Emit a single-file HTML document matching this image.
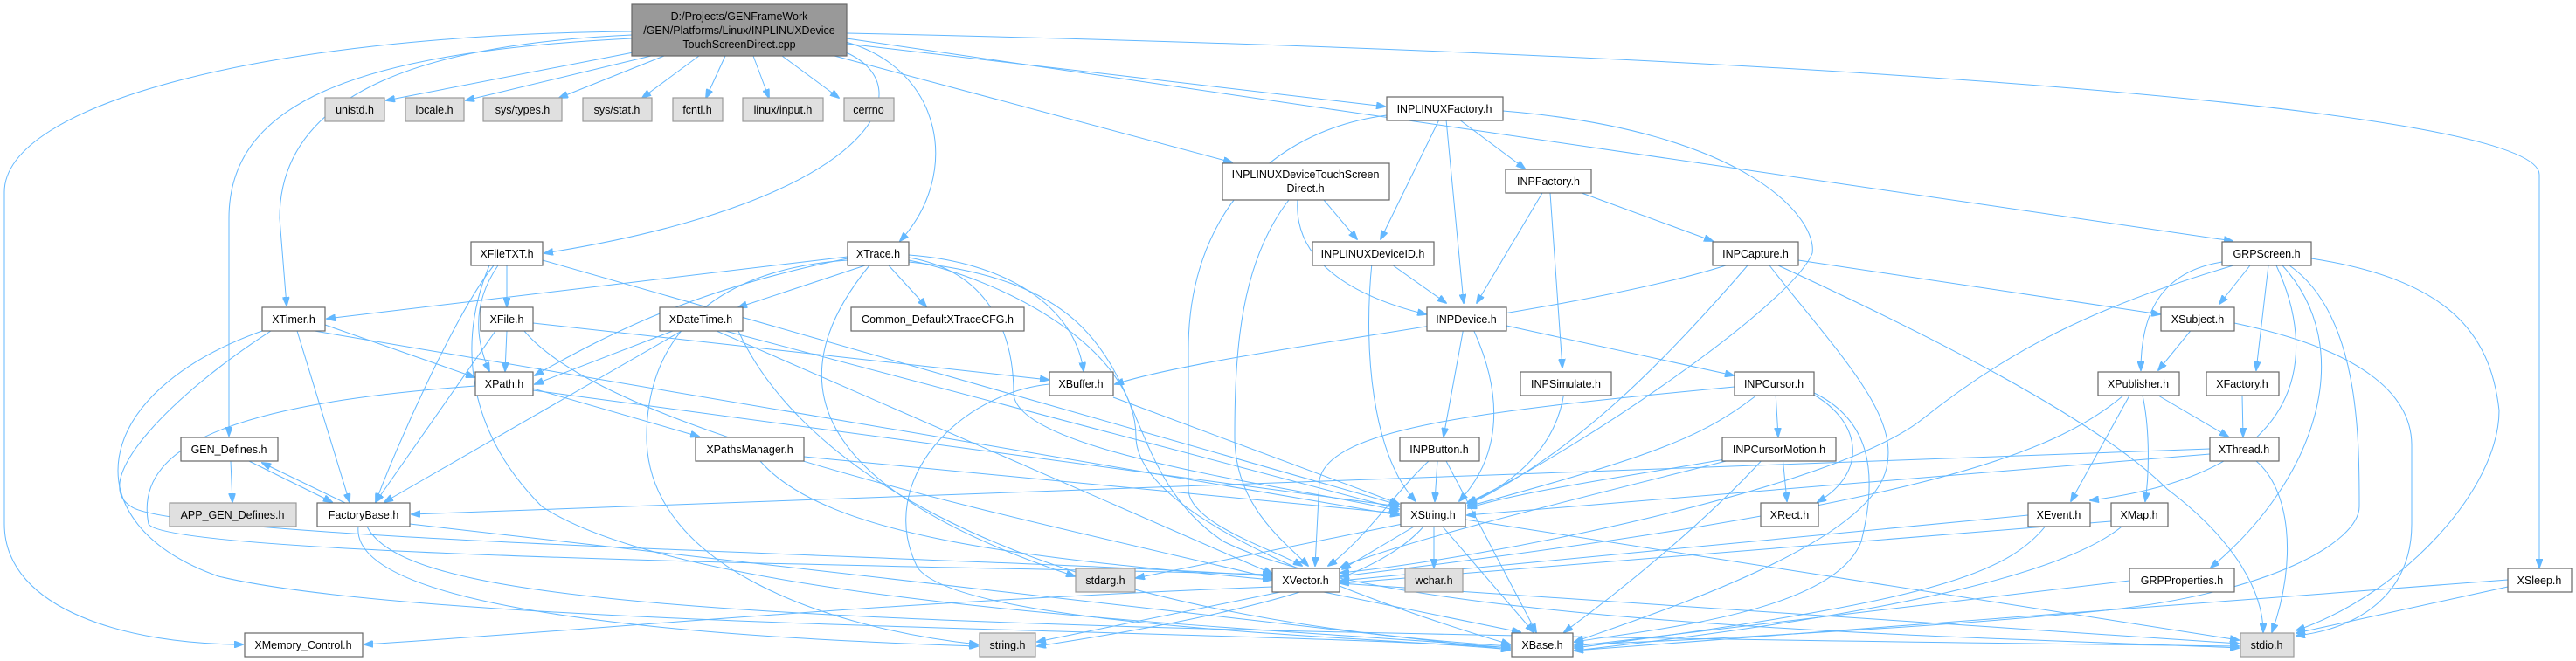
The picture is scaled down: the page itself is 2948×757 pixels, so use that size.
<!DOCTYPE html>
<html><head><meta charset="utf-8"><style>
html,body{margin:0;padding:0;background:#fff;}
svg{display:block;}
text{font-family:"Liberation Sans",Arial,sans-serif;font-size:12.5px;fill:#000;text-anchor:middle;}
.n{fill:#fff;stroke:#666;stroke-width:1.2;}
.g{fill:#e0e0e0;stroke:#999;stroke-width:1.2;}
.r{fill:#999;stroke:#666;stroke-width:1.2;}
path{fill:none;stroke:#63b8ff;stroke-width:1;marker-end:url(#a);}
</style></head><body>
<svg width="2948" height="757" viewBox="0 0 2948 757" xmlns="http://www.w3.org/2000/svg">
<defs><marker id="a" markerWidth="11" markerHeight="8" refX="10" refY="4" orient="auto" markerUnits="userSpaceOnUse"><polygon points="0,0 11,4 0,8" fill="#63b8ff" stroke="#63b8ff"/></marker></defs>
<g>
<!-- root edges -->
<path d="M735 58 L442 115"/>
<path d="M745 64 L533 115"/>
<path d="M760 64 L640 112"/>
<path d="M800 64 L735 112"/>
<path d="M830 64 L808 112"/>
<path d="M862 64 L880 112"/>
<path d="M895 64 L960 112"/>
<path d="M723 36 C300 40, 5 120, 5 220 L5 600 C5 700, 150 738, 278 738"/>
<path d="M723 44 C400 60, 262 120, 262 250 L262 499"/>
<path d="M723 40 C500 50, 320 100, 320 250 L328 350"/>
<path d="M968 60 C1060 100, 1000 230, 623 290"/>
<path d="M968 48 C1080 80, 1100 200, 1030 276"/>
<path d="M955 64 L1410 186"/>
<path d="M969 50 L1585 122"/>
<path d="M969 44 L2555 276"/>
<path d="M969 38 C2000 60, 2906 120, 2906 200 L2906 650"/>
<!-- INPLINUXFactory -->
<path d="M1647 137 L1580 274"/>
<path d="M1655 137 L1675 347"/>
<path d="M1670 137 L1745 193"/>
<path d="M1720 127 C2000 150, 2080 250, 2074 290 C2050 350, 1800 520, 1679 576"/>
<path d="M1587 132 C1450 150, 1360 250, 1360 400 L1360 560 C1360 600, 1460 630, 1490 648"/>
<!-- TSD -->
<path d="M1515 229 L1553 274"/>
<path d="M1485 229 C1480 300, 1550 340, 1632 360"/>
<path d="M1475 229 C1420 300, 1413 400, 1413 500 C1413 580, 1470 620, 1497 648"/>
<!-- INPFactory -->
<path d="M1765 221 L1690 347"/>
<path d="M1774 221 L1788 421"/>
<path d="M1810 221 L1960 276"/>
<!-- INPLINUXDeviceID -->
<path d="M1590 301 L1655 347"/>
<path d="M1570 301 C1560 400, 1570 520, 1620 574"/>
<!-- INPCapture -->
<path d="M1975 304 C1800 360, 1400 400, 1276 440"/>
<path d="M2000 304 C1900 420, 1800 520, 1680 578"/>
<path d="M2058 298 L2472 360"/>
<path d="M2025 304 C2100 400, 2170 470, 2160 530 C2150 620, 1900 700, 1802 735"/>
<path d="M2035 304 C2200 380, 2400 480, 2480 560 C2560 620, 2590 680, 2590 724"/>
<!-- INPDevice -->
<path d="M1675 375 L1652 500"/>
<path d="M1685 375 C1720 450, 1720 520, 1670 574"/>
<path d="M1724 373 L1984 430"/>
<path d="M1790 449 C1780 520, 1720 560, 1680 576"/>
<!-- INPCursor -->
<path d="M1985 443 C1700 470, 1520 490, 1510 550 L1505 648"/>
<path d="M2015 449 C1950 500, 1900 520, 1680 580"/>
<path d="M2032 449 L2035 500"/>
<path d="M2070 449 C2130 480, 2140 540, 2080 575"/>
<path d="M2074 449 C2140 480, 2150 540, 2130 620 C2100 700, 1900 720, 1802 735"/>
<!-- INPButton -->
<path d="M1645 528 L1642 574"/>
<path d="M1635 528 C1600 560, 1560 620, 1520 648"/>
<path d="M1655 528 L1758 724"/>
<!-- INPCursorMotion -->
<path d="M1990 523 C1900 540, 1750 560, 1680 582"/>
<path d="M1995 523 C1850 560, 1600 620, 1534 650"/>
<path d="M2040 523 L2045 574"/>
<path d="M2020 523 C1950 600, 1850 680, 1790 724"/>
<!-- GRPScreen -->
<path d="M2575 304 L2540 348"/>
<path d="M2543 300 C2480 310, 2450 350, 2450 424"/>
<path d="M2596 304 L2582 424"/>
<path d="M2605 304 C2650 400, 2650 540, 2392 573"/>
<path d="M2612 304 C2700 400, 2650 550, 2530 650"/>
<path d="M2620 304 C2700 360, 2700 500, 2700 580 C2700 620, 2600 680, 2400 700 C2200 720, 1900 735, 1802 738"/>
<path d="M2645 296 C2800 320, 2850 380, 2860 470 C2860 560, 2750 680, 2628 722"/>
<path d="M2556 304 C2400 350, 2300 400, 2200 480 C2100 560, 1700 640, 1534 656"/>
<!-- XSubject / XPublisher / XFactory / XThread -->
<path d="M2510 375 L2470 424"/>
<path d="M2557 370 C2700 400, 2760 450, 2760 510 L2760 600 C2760 680, 2700 720, 2628 728"/>
<path d="M2470 453 L2550 500"/>
<path d="M2437 453 L2370 574"/>
<path d="M2452 453 C2460 490, 2460 540, 2455 574"/>
<path d="M2430 453 C2350 520, 2200 580, 1534 660"/>
<path d="M2566 453 L2567 500"/>
<path d="M2529 514 L471 589"/>
<path d="M2582 528 C2620 560, 2630 640, 2600 724"/>
<path d="M2529 520 L1679 590"/>
<path d="M2321 590 L1534 665"/>
<path d="M2345 597 C2300 660, 2200 690, 1802 742"/>
<path d="M2416 597 L1534 668"/>
<path d="M2435 597 C2380 650, 2200 700, 1802 745"/>
<path d="M2437 665 L1802 740"/>
<path d="M2870 664 L1802 745"/>
<path d="M2870 672 L2628 725"/>
<!-- XString / XVector -->
<path d="M1641 602 L1641 650"/>
<path d="M1620 602 L1536 652"/>
<path d="M1650 602 L1755 724"/>
<path d="M1677 595 L2562 733"/>
<path d="M1605 600 L1300 662"/>
<path d="M1630 602 C1580 660, 1450 700, 1187 740"/>
<path d="M1510 677 L1740 724"/>
<path d="M1456 672 C1000 690, 700 720, 417 738"/>
<path d="M1470 677 L1187 735"/>
<path d="M1533 668 L2562 737"/>
<!-- XFileTXT -->
<path d="M580 304 L580 351"/>
<path d="M570 304 C545 340, 540 380, 560 425"/>
<path d="M565 304 C520 360, 450 520, 430 575"/>
<path d="M621 298 L1600 578"/>
<path d="M560 304 C520 400, 540 500, 620 580 C800 700, 1500 720, 1728 742"/>
<!-- XTrace -->
<path d="M970 294 L374 365"/>
<path d="M990 304 L845 352"/>
<path d="M1017 304 L1060 351"/>
<path d="M1040 292 C1150 300, 1230 350, 1240 425"/>
<path d="M1040 295 C1130 310, 1160 380, 1160 450 C1160 520, 1500 560, 1600 585"/>
<path d="M995 304 C900 420, 900 550, 1230 660"/>
<path d="M1040 298 C1150 320, 1300 400, 1300 500 C1300 600, 1600 700, 1728 738"/>
<path d="M970 298 C800 310, 740 400, 740 500 C740 650, 950 720, 1119 738"/>
<path d="M1040 300 C1350 330, 1250 520, 1400 620 C1600 720, 2300 730, 2562 742"/>
<path d="M970 296 C800 330, 700 380, 612 430"/>
<!-- XTimer -->
<path d="M372 372 L543 432"/>
<path d="M340 379 L400 575"/>
<path d="M310 379 C200 450, 100 550, 150 580 C200 620, 1200 640, 1455 660"/>
<path d="M300 379 C100 450, 80 600, 250 660 C500 720, 1400 720, 1728 742"/>
<path d="M360 379 L1601 590"/>
<!-- XFile -->
<path d="M580 379 L578 425"/>
<path d="M567 379 L430 575"/>
<path d="M610 370 L1200 435"/>
<path d="M600 379 C700 500, 1200 600, 1455 662"/>
<!-- XDateTime -->
<path d="M770 379 L612 440"/>
<path d="M780 379 L440 575"/>
<path d="M830 379 L1601 583"/>
<path d="M820 379 L1456 657"/>
<path d="M845 379 C900 500, 1100 700, 1728 740"/>
<!-- XPath / XPathsManager / XBuffer -->
<path d="M610 445 L800 500"/>
<path d="M610 447 L1601 580"/>
<path d="M544 442 C300 460, 150 500, 170 600 C190 640, 1200 650, 1455 658"/>
<path d="M920 523 L1601 588"/>
<path d="M870 528 C950 620, 1200 640, 1455 664"/>
<path d="M1274 455 L1601 577"/>
<path d="M1201 440 C1100 450, 1000 550, 1050 650 C1100 720, 1600 730, 1728 744"/>
<!-- GEN / FactoryBase -->
<path d="M264 528 L266 575"/>
<path d="M285 528 L380 575"/>
<path d="M395 576 L300 530"/>
<path d="M469 600 L1728 744"/>
<path d="M410 603 C400 700, 800 730, 1119 740"/>
<path d="M420 603 C470 700, 900 720, 2562 740"/>
</g>
<!-- nodes -->
<rect class="r" x="723" y="5" width="246" height="59"/>
<text x="846" y="23">D:/Projects/GENFrameWork</text>
<text x="846" y="39">/GEN/Platforms/Linux/INPLINUXDevice</text>
<text x="846" y="55">TouchScreenDirect.cpp</text>

<rect class="g" x="372" y="112" width="68" height="27"/><text x="406" y="130">unistd.h</text>
<rect class="g" x="464" y="112" width="67" height="27"/><text x="497" y="130">locale.h</text>
<rect class="g" x="553" y="112" width="90" height="27"/><text x="598" y="130">sys/types.h</text>
<rect class="g" x="667" y="112" width="79" height="27"/><text x="706" y="130">sys/stat.h</text>
<rect class="g" x="770" y="112" width="57" height="27"/><text x="798" y="130">fcntl.h</text>
<rect class="g" x="850" y="112" width="92" height="27"/><text x="896" y="130">linux/input.h</text>
<rect class="g" x="966" y="112" width="57" height="27"/><text x="994" y="130">cerrno</text>
<rect class="n" x="1587" y="111" width="133" height="27"/><text x="1653" y="129">INPLINUXFactory.h</text>

<rect class="n" x="1399" y="187" width="191" height="42"/>
<text x="1494" y="204">INPLINUXDeviceTouchScreen</text>
<text x="1494" y="220">Direct.h</text>
<rect class="n" x="1723" y="194" width="98" height="27"/><text x="1772" y="212">INPFactory.h</text>

<rect class="n" x="539" y="277" width="82" height="27"/><text x="580" y="295">XFileTXT.h</text>
<rect class="n" x="970" y="277" width="70" height="27"/><text x="1005" y="295">XTrace.h</text>
<rect class="n" x="1502" y="277" width="139" height="27"/><text x="1571" y="295">INPLINUXDeviceID.h</text>
<rect class="n" x="1960" y="277" width="98" height="27"/><text x="2009" y="295">INPCapture.h</text>
<rect class="n" x="2543" y="277" width="102" height="27"/><text x="2594" y="295">GRPScreen.h</text>

<rect class="n" x="300" y="352" width="72" height="27"/><text x="336" y="370">XTimer.h</text>
<rect class="n" x="550" y="352" width="60" height="27"/><text x="580" y="370">XFile.h</text>
<rect class="n" x="755" y="352" width="95" height="27"/><text x="802" y="370">XDateTime.h</text>
<rect class="n" x="974" y="352" width="198" height="27"/><text x="1073" y="370">Common_DefaultXTraceCFG.h</text>
<rect class="n" x="1633" y="352" width="91" height="27"/><text x="1678" y="370">INPDevice.h</text>
<rect class="n" x="2473" y="352" width="84" height="27"/><text x="2515" y="370">XSubject.h</text>

<rect class="n" x="544" y="426" width="66" height="27"/><text x="577" y="444">XPath.h</text>
<rect class="n" x="1201" y="426" width="73" height="27"/><text x="1237" y="444">XBuffer.h</text>
<rect class="n" x="1740" y="426" width="104" height="27"/><text x="1792" y="444">INPSimulate.h</text>
<rect class="n" x="1985" y="426" width="91" height="27"/><text x="2030" y="444">INPCursor.h</text>
<rect class="n" x="2401" y="426" width="93" height="27"/><text x="2447" y="444">XPublisher.h</text>
<rect class="n" x="2525" y="426" width="83" height="27"/><text x="2566" y="444">XFactory.h</text>

<rect class="n" x="207" y="501" width="111" height="27"/><text x="262" y="519">GEN_Defines.h</text>
<rect class="n" x="796" y="501" width="124" height="27"/><text x="858" y="519">XPathsManager.h</text>
<rect class="n" x="1602" y="501" width="91" height="27"/><text x="1647" y="519">INPButton.h</text>
<rect class="n" x="1971" y="501" width="130" height="27"/><text x="2036" y="519">INPCursorMotion.h</text>
<rect class="n" x="2529" y="501" width="79" height="27"/><text x="2568" y="519">XThread.h</text>

<rect class="g" x="194" y="576" width="145" height="27"/><text x="266" y="594">APP_GEN_Defines.h</text>
<rect class="n" x="363" y="576" width="106" height="27"/><text x="416" y="594">FactoryBase.h</text>
<rect class="n" x="1603" y="576" width="74" height="27"/><text x="1640" y="594">XString.h</text>
<rect class="n" x="2015" y="576" width="66" height="27"/><text x="2048" y="594">XRect.h</text>
<rect class="n" x="2321" y="576" width="71" height="27"/><text x="2356" y="594">XEvent.h</text>
<rect class="n" x="2416" y="576" width="65" height="27"/><text x="2448" y="594">XMap.h</text>

<rect class="g" x="1231" y="651" width="68" height="27"/><text x="1265" y="669">stdarg.h</text>
<rect class="n" x="1456" y="651" width="77" height="27"/><text x="1494" y="669">XVector.h</text>
<rect class="g" x="1608" y="651" width="66" height="27"/><text x="1641" y="669">wchar.h</text>
<rect class="n" x="2437" y="651" width="120" height="27"/><text x="2497" y="669">GRPProperties.h</text>
<rect class="n" x="2870" y="651" width="73" height="27"/><text x="2906" y="669">XSleep.h</text>

<rect class="n" x="280" y="725" width="135" height="27"/><text x="347" y="743">XMemory_Control.h</text>
<rect class="g" x="1121" y="725" width="64" height="27"/><text x="1153" y="743">string.h</text>
<rect class="n" x="1730" y="725" width="70" height="27"/><text x="1765" y="743">XBase.h</text>
<rect class="g" x="2564" y="725" width="61" height="27"/><text x="2594" y="743">stdio.h</text>
</svg>
</body></html>
